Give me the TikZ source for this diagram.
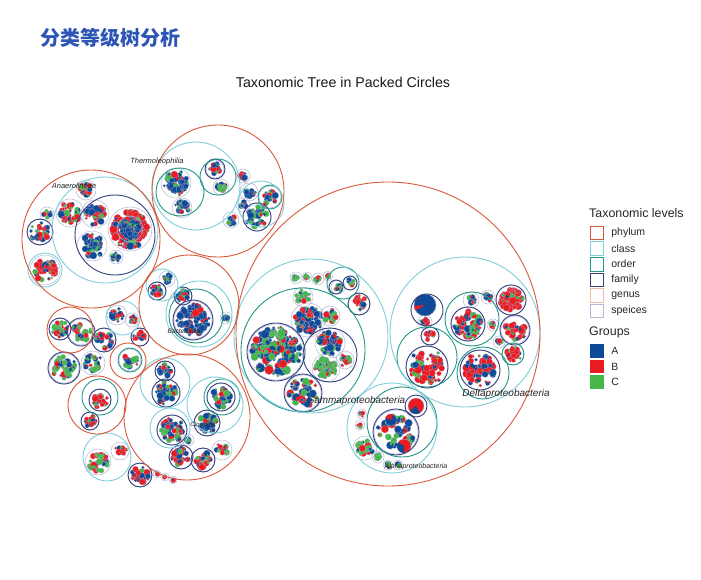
\documentclass[tikz,border=0pt]{standalone}
\usepackage{fontspec}
\setmainfont{Liberation Sans}
\newfontfamily\cjk{Noto Sans CJK SC}
\usetikzlibrary{positioning}

\definecolor{lvphylum}{HTML}{D9583B}
\definecolor{lvclass}{HTML}{7FCFDB}
\definecolor{lvorder}{HTML}{23988A}
\definecolor{lvfamily}{HTML}{34427E}
\definecolor{lvgenus}{HTML}{F1BBAA}
\definecolor{lvspec}{HTML}{B4B8D6}
\definecolor{grp1}{HTML}{0E4A98}
\definecolor{grp2}{HTML}{EB1B22}
\definecolor{grp3}{HTML}{45B649}
\definecolor{headblue}{HTML}{2C55B5}

\tikzset{
  phy/.style={draw=lvphylum, line width=0.9pt},
  cls/.style={draw=lvclass, line width=0.9pt},
  ord/.style={draw=lvorder, line width=0.9pt},
  fam/.style={draw=lvfamily, line width=0.9pt},
  spc/.style={draw=lvspec, line width=0.5pt},
  taxon/.style={font=\itshape\fontsize{7.5}{8}\selectfont, text=black!85, inner sep=0pt},
  keybox/.style={minimum size=13.5pt, inner sep=0pt, line width=0.8pt},
  keytext/.style={font=\fontsize{10.5}{12}\selectfont, inner sep=0pt, text=black!85},
  keyhead/.style={font=\fontsize{12.4}{14}\selectfont, anchor=west, inner sep=0pt, text=black!85}
}

% random packed dots inside one leaf circle: x, y, R, count, share A, share B
\newcommand\packdots[6]{%
  \draw[spc] (#1,#2) circle[radius=#3+1];
  \pgfmathtruncatemacro\nn{max(2,round(1.9*#4))}%
  \foreach \k in {1,...,\nn}{%
    \pgfmathsetmacro\ds{1.4+(1.4+0.07*#3)*rnd}%
    \pgfmathsetmacro\dr{max(0,#3-\ds)*sqrt(rnd)}%
    \pgfmathsetmacro\da{360*rnd}%
    \pgfmathsetmacro\dc{rnd}%
    \pgfmathtruncatemacro\ci{\dc<#5 ? 1 : (\dc<#5+#6 ? 2 : 3)}%
    \pgfmathsetmacro\dx{#1+\dr*cos(\da)}%
    \pgfmathsetmacro\dy{#2+\dr*sin(\da)}%
    \fill[grp\ci, draw=lvspec, line width=0.12pt] (\dx,\dy) circle[radius=\ds];
    \pgfmathsetmacro\dw{rnd}%
    \ifdim\dw pt<0.3pt
      \pgfmathtruncatemacro\cj{mod(\ci+int(1+2*rnd)-1,3)+1}%
      \pgfmathsetmacro\sa{360*rnd}%
      \pgfmathsetmacro\sd{40+120*rnd}%
      \fill[grp\cj] (\dx,\dy) -- ++(\sa:\ds) arc[start angle=\sa, delta angle=\sd, radius=\ds] -- cycle;
    \fi
  }%
}
% one larger pie: x, y, r, base colour, slice colour, start, sweep
\newcommand\pieglyph[7]{%
  \fill[#4, draw=lvspec, line width=0.3pt] (#1,#2) circle[radius=#3];
  \fill[#5] (#1,#2) -- ++(#6:#3) arc[start angle=#6, delta angle=#7, radius=#3] -- cycle;
}

\begin{document}
\begin{tikzpicture}[x=1pt, y=-1pt]
\pgfmathsetseed{4242}
\useasboundingbox (0,0) rectangle (701,580);
\fill[white] (0,0) rectangle (701,580);

% headings
\node[anchor=west, text=headblue, font=\cjk\bfseries\fontsize{20}{24}\selectfont, inner sep=0pt] (heading) at (40,38) {分类等级树分析};
\node[font=\fontsize{14.2}{17}\selectfont, inner sep=0pt, text=black!90] (plottitle) at (343,82) {Taxonomic Tree in Packed Circles};

% leaf circles with samples
\foreach \bx/\by/\bR/\bn/\qa/\qb in {
  130/229/21/60/0.15/0.8, 92/246/14/26/0.6/0.12, 95/214/13/22/0.4/0.5, 116/257/6/5/0.7/0.2,
  70/213/13/22/0.1/0.7, 86/190/9/10/0.2/0.7, 45/270/14/20/0.1/0.8, 40/232/12/16/0.3/0.45,
  47/214/6/5/0.5/0.4,
  176/183/14/28/0.75/0.15, 182/208/9/10/0.6/0.1, 215/169/8/8/0.55/0.35, 221/187/7/7/0.4/0.05,
  257/217/13/18/0.55/0.1, 270/197/10/10/0.55/0.2, 249/192/8/7/0.5/0.2, 243/205/6/5/0.5/0.2,
  243/176/6/6/0.4/0.5, 231/220/7/6/0.5/0.05,
  193/320/18/36/0.75/0.18, 183/296/8/8/0.7/0.2, 157/291/8/8/0.5/0.35, 167/279/7/7/0.7/0.2,
  226/318/5/4/0.7/0.2,
  165/371/9/9/0.7/0.2, 166/393/13/18/0.75/0.1, 221/397/13/18/0.7/0.1, 207/423/12/14/0.6/0.2,
  172/430/14/22/0.4/0.3, 181/457/11/14/0.2/0.7, 203/460/11/14/0.2/0.7, 222/450/9/9/0.25/0.55,
  188/440/5/4/0.3/0.3,
  60/329/10/11/0.2/0.3, 81/332/12/14/0.2/0.3, 117/315/9/9/0.5/0.4, 132/320/6/5/0.6/0.3,
  104/340/11/12/0.4/0.5, 140/337/8/7/0.3/0.6, 64/368/14/18/0.3/0.15, 93/363/11/12/0.3/0.3,
  130/360/10/10/0.3/0.4, 100/400/10/11/0.3/0.5, 90/421/8/7/0.4/0.4, 98/462/12/15/0.15/0.35,
  120/451/8/7/0.1/0.8, 140/475/11/14/0.1/0.85, 157/474/3/2/0.1/0.9, 165/477/3/2/0.1/0.9,
  173/480/3/2/0.1/0.9,
  276/352/27/70/0.5/0.2, 330/343/14/22/0.7/0.15, 326/368/13/24/0.12/0.1, 345/360/8/8/0.4/0.3,
  303/393/17/24/0.45/0.2, 308/320/16/32/0.6/0.3, 303/297/9/9/0.1/0.1, 330/316/9/9/0.25/0.2,
  350/283/6/5/0.5/0.2, 338/287/6/5/0.4/0.1, 359/304/10/11/0.3/0.55, 296/278/5/3/0.05/0.1,
  307/277/4/3/0.1/0.1, 318/279/5/3/0.1/0.3, 328/276/4/2/0.1/0.5,
  425/322/6/6/0.1/0.6, 468/324/16/28/0.35/0.55, 471/300/7/7/0.4/0.3, 488/297/6/5/0.4/0.4,
  511/300/14/30/0.03/0.92, 515/330/13/15/0.1/0.7, 513/354/10/10/0.1/0.8, 427/367/20/32/0.2/0.72,
  430/336/8/6/0.1/0.85, 480/370/19/32/0.35/0.6, 499/342/5/3/0.4/0.3, 493/325/5/4/0.4/0.3,
  396/432/21/22/0.45/0.2, 365/448/11/14/0.08/0.1, 378/457/5/4/0.2/0.2, 388/465/4/3/0.3/0.3,
  398/465/4/3/0.3/0.3, 360/425/4/2/0.2/0.5, 362/414/4/2/0.2/0.5}
  {\packdots{\bx}{\by}{\bR}{\bn}{\qa}{\qb}}
% dense blue core of the Anaerolineae family
\packdots{130}{229}{12}{30}{0.9}{0.08}

% single large pies
\pieglyph{425}{305}{11}{grp1}{grp3}{80}{70}
\pieglyph{425}{305}{11}{grp1}{grp2}{150}{25}
\pieglyph{416}{406}{8}{grp2}{grp1}{60}{80}
\pieglyph{391}{420}{6}{grp1}{grp2}{200}{90}
\pieglyph{404}{446}{7}{grp2}{grp1}{90}{120}

% families
\foreach \bx/\by/\bR in {115/235/40, 40/232/13, 276/352/29, 330/355/27, 303/393/19, 359/304/11,
  350/283/7, 336/287/7, 468/324/17, 427/367/21, 430/336/9, 480/370/20, 511/300/15, 515/330/15,
  427/310/16, 396/432/23, 416/406/11, 215/169/10, 257/217/14, 193/320/20, 183/296/9, 157/291/9,
  165/371/10, 166/393/14, 221/397/14, 207/423/13, 172/430/15, 181/457/12, 203/460/12,
  60/329/11, 81/332/14, 64/368/16, 104/340/12, 140/337/9, 100/400/11, 90/421/9, 140/475/12}
  {\draw[fam] (\bx,\by) circle[radius=\bR];}
% orders
\foreach \bx/\by/\bR in {303/350/62, 343/283/16, 472/319/27, 427/357/30, 483/373/26, 513/354/11,
  402/422/35, 180/192/24, 218/177/18, 270/197/12, 196/316/27, 222/397/18, 100/397/18, 130/360/12}
  {\draw[ord] (\bx,\by) circle[radius=\bR];}
% classes
\foreach \bx/\by/\bR in {105/230/53, 45/270/17, 196/186/44, 261/204/23, 199/314/33, 162/285/16,
  165/383/25, 215/405/28, 170/428/20, 311/336/77, 465/332/75, 392/428/45, 123/318/17, 107/457/24}
  {\draw[cls] (\bx,\by) circle[radius=\bR];}
% phyla
\foreach \bx/\by/\bR in {388/334/152, 91/239/69, 218/191/66, 189/305/50, 187/417/63,
  97/405/29, 70/330/23, 128/361/18}
  {\draw[phy] (\bx,\by) circle[radius=\bR];}

% taxon labels
\node[taxon] (anaero) at (74,186) {Anaerolineae};
\node[taxon] (thermo) at (157,162) {Thermoleophilia};
\node[taxon, font=\itshape\fontsize{6.5}{7}\selectfont] (bactero) at (184,331) {Bacteroidia};
\node[taxon, font=\itshape\fontsize{6}{7}\selectfont] (clostr) at (203,424) {Clostridia};
\node[taxon, font=\itshape\fontsize{9.9}{11}\selectfont] (gamma) at (356,401) {Gammaproteobacteria};
\node[taxon, font=\itshape\fontsize{10}{11}\selectfont] (delta) at (506,394) {Deltaproteobacteria};
\node[taxon, font=\itshape\fontsize{7}{8}\selectfont] (alpha) at (416,467) {Alphaproteobacteria};

% legend
\node[keyhead] (levelhead) at (589,213) {Taxonomic levels};
\foreach \lv/\lab [count=\i] in {lvphylum/phylum, lvclass/class, lvorder/order,
  lvfamily/family, lvgenus/genus, lvspec/speices}
{
  \node[keybox, draw=\lv] (key\i) at (597,217.4+15.6*\i) {};
  \node[keytext, right=7pt of key\i] (keylab\i) {\lab};
}
\node[keyhead] (grouphead) at (589,332) {Groups};
\foreach \gc/\lab [count=\i] in {grp1/A, grp2/B, grp3/C}
{
  \node[keybox, fill=\gc] (gkey\i) at (597,335.5+15.5*\i) {};
  \node[keytext, right=7pt of gkey\i] (gkeylab\i) {\lab};
}
\end{tikzpicture}
\end{document}
